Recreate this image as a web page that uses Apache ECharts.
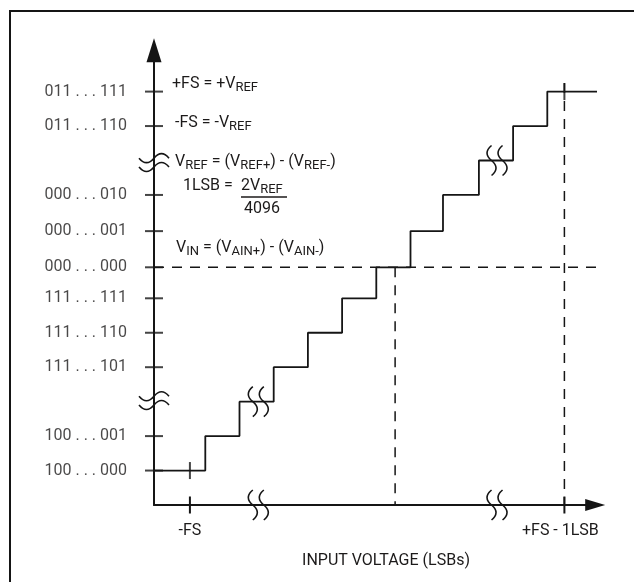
<!DOCTYPE html>
<html><head><meta charset="utf-8">
<script src="https://cdn.jsdelivr.net/npm/echarts@6/dist/echarts.min.js"></script>
<style>html,body{margin:0;padding:0;background:#fff}#c{width:634px;height:582px}</style>
</head><body><div id="c"></div>
<script>
// ---- data (display units: 1 = one LSB step / one output code) ----
const stairX = [0, 1.5, 2.5, 3.5, 4.5, 5.5, 6.5, 7.5, 8.45, 9.5, 10.5, 11.5, 13];
const stairCode = [1, 2, 3, 4, 5, 6, 6.9, 7.95, 9, 10, 11, 12, 12];
const codeTickPos = [1, 2, 4, 5, 6, 6.9, 7.95, 9, 11, 12];
const codeTickLabels = ['100 . . . 000', '100 . . . 001', '111 . . . 101', '111 . . . 110', '111 . . . 111',
  '000 . . . 000', '000 . . . 001', '000 . . . 010', '011 . . . 110', '011 . . . 111'];
const inputTickPos = [1.05, 7.05, 12];
const inputTickLabels = ['-FS', '0V', '+FS - 1LSB'];
const zeroCode = 6.9;
const fsTopCode = 12.25;
const dashEndX = 13;
const axisBreaksX = [3.05, 10.03];
const axisBreaksY = [3.03, 9.94];
const stairBreaks = [[3.05, 3], [10.03, 10]];

// ---- layout ----
const PXX = 34.2, PXY = 34.45, X_MAX = 12.9, Y_MAX = 13.2;
const FONT = "Roboto, 'Liberation Sans', sans-serif";
const INK = '#151515', TXT = '#1c1a1a';

const chart = echarts.init(document.getElementById('c'), null, {renderer: 'canvas'});

function axis(max, size) {
  return {type: 'value', min: 0, max: max, axisLine: {show: true, onZero: false,
    lineStyle: {color: INK, width: 2}, symbol: ['none', 'triangle'], symbolSize: size},
    axisTick: {show: false}, axisLabel: {show: false}, splitLine: {show: false}};
}
function dashed(pts) {
  return {type: 'line', data: pts, symbol: 'none', clip: false, silent: true, z: 2,
    lineStyle: {color: INK, width: 1.5, type: [10, 8]}};
}
const breakData = axisBreaksX.map(x => [x, 0, 0])
  .concat(stairBreaks.map(p => [p[0], p[1], 0]))
  .concat(axisBreaksY.map(y => [0, y, 1]));

function rich(size, sub) {
  return {
    n: {fontSize: size, fontFamily: FONT, fill: TXT, lineHeight: 20, verticalAlign: 'middle'},
    s: {fontSize: sub, fontFamily: FONT, fill: TXT, lineHeight: 9, verticalAlign: 'bottom'}
  };
}
function txt(x, y, text, align) {
  return {type: 'text', x: x, y: y, silent: true,
    style: {text: text, rich: rich(16, 13), align: align || 'left', verticalAlign: 'middle', fill: TXT, font: '16px ' + FONT}};
}

const option = {
  animation: false,
  backgroundColor: '#fff',
  grid: {left: 154, top: 505 - Y_MAX * PXY, width: X_MAX * PXX, height: Y_MAX * PXY},
  xAxis: axis(X_MAX, [12, 20]),
  yAxis: axis(Y_MAX, [15, 24]),
  series: [
    {type: 'line', step: 'end', data: stairX.map((x, i) => [x, stairCode[i]]), symbol: 'none', clip: false, z: 3,
      lineStyle: {color: INK, width: 1.8}},
    dashed([[0, zeroCode], [dashEndX, zeroCode]]),
    dashed([[inputTickPos[1], zeroCode], [inputTickPos[1], 0]]),
    dashed([[inputTickPos[2], fsTopCode], [inputTickPos[2], 0]]),
    {type: 'scatter', data: codeTickPos.map(v => [0, v]), symbol: 'rect', symbolSize: [18, 2], clip: false, z: 4,
      itemStyle: {color: INK},
      label: {show: true, position: 'left', distance: 18, color: TXT, fontSize: 16, fontFamily: FONT,
        formatter: p => codeTickLabels[p.dataIndex]}},
    {type: 'scatter', data: inputTickPos.map((x, i) => ({value: [x, 0],
        itemStyle: {opacity: i === 1 ? 0 : 1}, label: {offset: [i === 2 ? -4 : 0, 0]}})),
      symbol: 'rect', symbolSize: [2, 17], clip: false, z: 4, itemStyle: {color: INK},
      label: {show: true, position: 'bottom', distance: 9, color: TXT, fontSize: 16, fontFamily: FONT,
        formatter: p => inputTickLabels[p.dataIndex]}},
    {type: 'scatter', data: [[inputTickPos[0], stairCode[0]], [inputTickPos[2], stairCode[stairCode.length - 1]]],
      symbol: 'rect', symbolSize: [2, 17], clip: false, z: 4, itemStyle: {color: INK}},
    {type: 'custom', data: breakData, clip: false, z: 5, silent: true,
      renderItem: function (params, api) {
        const p = api.coord([api.value(0), api.value(1)]);
        const cx = p[0], cy = p[1], o = api.value(2);
        const kids = [];
        [-5.5, 5.5].forEach(off => {
          let d;
          if (o === 0) {
            const x = cx + off;
            d = `M${x},${cy - 15} C${x - 6},${cy - 10} ${x - 6},${cy - 5} ${x},${cy} C${x + 6},${cy + 5} ${x + 6},${cy + 10} ${x},${cy + 15}`;
          } else {
            const y = cy + off * 0.8;
            d = `M${cx - 15},${y} C${cx - 10},${y + 6} ${cx - 5},${y + 6} ${cx},${y} C${cx + 5},${y - 6} ${cx + 10},${y - 6} ${cx + 15},${y}`;
          }
          kids.push({type: 'path', shape: {pathData: d}, style: {fill: 'none', stroke: INK, lineWidth: 1.6}});
        });
        return {type: 'group', children: kids};
      }}
  ],
  graphic: [
    {type: 'rect', shape: {x: 10, y: 11, width: 650, height: 620}, silent: true,
      style: {fill: 'none', stroke: INK, lineWidth: 2}},
    txt(172, 84, '{n|+FS = +V}{s|REF}'),
    txt(175, 123, '{n|-FS = -V}{s|REF}'),
    txt(175, 162, '{n|V}{s|REF}{n| = (V}{s|REF+}{n|) - (V}{s|REF-}{n|)}'),
    txt(183, 186, '{n|1LSB = }'),
    txt(241, 186, '{n|2V}{s|REF}'),
    {type: 'line', shape: {x1: 241, y1: 197, x2: 287, y2: 197}, silent: true, style: {stroke: TXT, lineWidth: 1.3}},
    txt(262, 209, '{n|4096}', 'center'),
    txt(176, 248, '{n|V}{s|IN}{n| = (V}{s|AIN+}{n|) - (V}{s|AIN-}{n|)}'),
    txt(386, 561, '{n|INPUT VOLTAGE (LSBs)}', 'center')
  ]
};
chart.setOption(option);
</script></body></html>
